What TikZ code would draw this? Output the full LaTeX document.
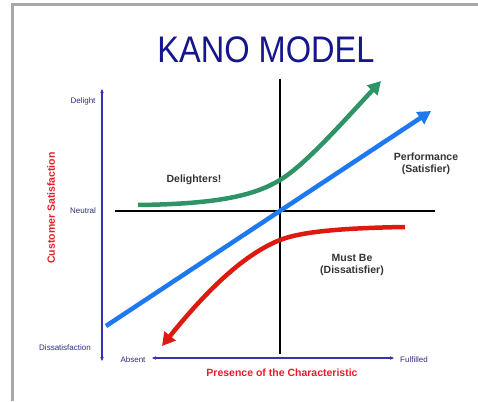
\documentclass[tikz,border=0pt]{standalone}
\usepackage{fontspec}
\setmainfont{Liberation Sans}
\usetikzlibrary{arrows.meta}
\definecolor{titleblue}{HTML}{16168C}
\definecolor{axisblue}{HTML}{3434B0}
\definecolor{ticklabel}{HTML}{30307E}
\definecolor{curvegreen}{HTML}{2E9466}
\definecolor{lineblue}{HTML}{1E78F0}
\definecolor{curvered}{HTML}{DE1A10}
\definecolor{axislabel}{HTML}{E61E2A}
\definecolor{framegray}{HTML}{A8A8A8}
\tikzset{
  smalllabel/.style={font=\fontsize{8}{9}\selectfont, text=ticklabel, inner sep=0pt},
  boldlabel/.style={font=\fontsize{10.5}{12.5}\selectfont\bfseries, text=black!80, inner sep=0pt, align=center},
  redlabel/.style={font=\fontsize{10.5}{12}\selectfont\bfseries, text=axislabel, inner sep=0pt},
  axis/.style={axisblue, line width=1.3pt, {Stealth[length=4pt,width=3.5pt]}-{Stealth[length=4pt,width=3.5pt]}},
  cross/.style={black, line width=2pt},
  curve/.style={line width=4.5pt, -{Triangle[length=13pt,width=14pt]}},
}
\begin{document}
\begin{tikzpicture}[x=1pt, y=-1pt]
  \useasboundingbox (0,0) rectangle (478,401);
  \fill[white] (0,0) rectangle (478,401);
  % slide frame
  \draw[framegray, line width=3pt] (12,401) -- (12,5) -- (478,5);

  % title
  \node (title) at (266,50) {\scalebox{0.88}[1]{\fontsize{37}{40}\selectfont\color{titleblue}KANO MODEL}};

  % satisfaction axis
  \coordinate (ytop) at (102,89);
  \coordinate (ybot) at (102,361);
  \draw[axis] (ybot) -- (ytop);
  \node[smalllabel] (delight) at (83,101) {Delight};
  \node[smalllabel] (neutral) at (83,211) {Neutral};
  \node[smalllabel] (dissat) at (65,348) {Dissatisfaction};
  \node[redlabel, rotate=90] (ylabel) at (51,208) {Customer Satisfaction};

  % presence axis
  \coordinate (xleft) at (152,358);
  \coordinate (xright) at (394,358);
  \draw[axis] (xleft) -- (xright);
  \node[smalllabel] (absent) at (133,360) {Absent};
  \node[smalllabel] (fulfilled) at (414,360) {Fulfilled};
  \node[redlabel] (xlabel) at (282,373) {Presence of the Characteristic};

  % centre cross
  \coordinate (vtop) at (280,79);
  \coordinate (vbot) at (280,354);
  \coordinate (hleft) at (115,211);
  \coordinate (hright) at (435,211);
  \draw[cross] (vtop) -- (vbot);
  \draw[cross] (hleft) -- (hright);

  % performance line
  \coordinate (bstart) at (106,326);
  \coordinate (bend) at (431,111);
  \draw[curve, lineblue] (bstart) -- (bend);

  % delighters curve
  \coordinate (gstart) at (138,205);
  \coordinate (gmid) at (280,180);
  \coordinate (gend) at (381,81);
  \draw[curve, curvegreen] (gstart) .. controls (220,204) and (255,195) .. (gmid)
    .. controls (305,165) and (342,123) .. (gend);

  % must-be curve
  \coordinate (rstart) at (405,227);
  \coordinate (rmid) at (280,240);
  \coordinate (rend) at (162,346);
  \draw[curve, curvered] (rstart) .. controls (340,228) and (300,232) .. (rmid)
    .. controls (250,252) and (215,280) .. (rend);

  % region labels
  \node[boldlabel] (delighters) at (194,180) {Delighters!};
  \node[boldlabel] (perf) at (426,164) {Performance\\(Satisfier)};
  \node[boldlabel] (mustbe) at (352,265) {Must Be\\(Dissatisfier)};
\end{tikzpicture}
\end{document}
